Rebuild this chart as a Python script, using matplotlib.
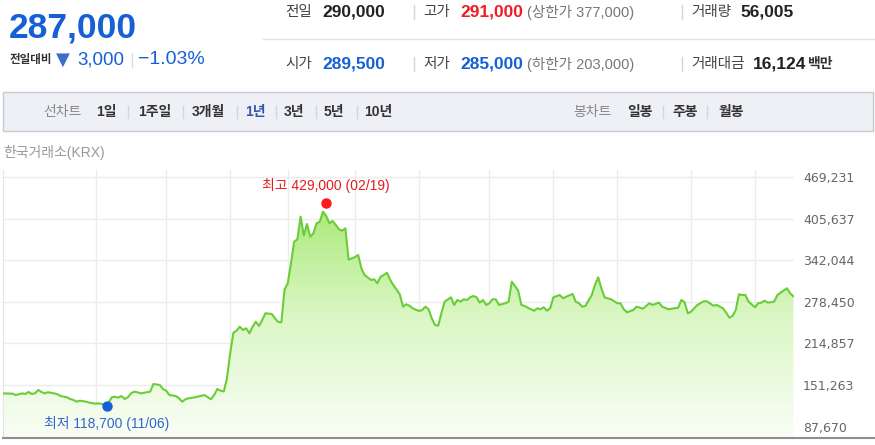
import numpy as np
import matplotlib
matplotlib.use("Agg")
import matplotlib.pyplot as plt
from matplotlib.colors import LinearSegmentedColormap
from matplotlib.lines import Line2D
from matplotlib.patches import Rectangle, Polygon

# ---------------------------------------------------------------------------
# data
# ---------------------------------------------------------------------------
cur_price = 287000
change = 3000
change_pct = -1.03
prev_close = 290000
open_price = 289500
day_high = 291000
day_low = 285000
upper_limit = 377000
lower_limit = 203000
volume = 56005
trade_value = 16124   # 백만

# trading day index and closing price (thousand won)
days = [0, 3, 4, 6, 7, 8, 9, 10, 11, 12, 13, 14, 16, 17, 18, 20, 21, 22, 23, 24,
        26, 27, 29, 30, 32, 33, 34, 35, 36, 37, 38, 39, 40, 41, 42, 43, 45, 46, 47, 49,
        50, 51, 52, 54, 55, 56, 57, 58, 60, 63, 64, 65, 66, 67, 68, 69, 70, 71, 72, 73,
        74, 75, 76, 77, 78, 79, 80, 81, 82, 84, 85, 86, 87, 88, 89, 90, 91, 92, 93, 94,
        95, 96, 97, 98, 99, 100, 101, 102, 103, 104, 105, 106, 107, 108, 110, 111, 112, 113, 115, 116,
        117, 118, 119, 120, 121, 122, 124, 125, 126, 127, 128, 130, 131, 132, 133, 134, 135, 136, 137, 138,
        140, 141, 142, 143, 144, 145, 146, 147, 148, 149, 150, 151, 152, 153, 154, 155, 157, 158, 159, 160,
        161, 162, 163, 165, 166, 167, 168, 169, 170, 171, 172, 174, 175, 176, 178, 179, 180, 181, 182, 184,
        185, 186, 187, 188, 190, 192, 193, 194, 195, 197, 198, 200, 202, 203, 205, 206, 208, 209, 211, 212,
        213, 214, 215, 217, 219, 220, 222, 223, 225, 226, 227, 228, 229, 230, 231, 232, 233, 235, 236, 237,
        238, 239, 241, 242, 243, 245, 246, 247]
price_k = [138.6, 138.1, 136.1, 138.6, 137.7, 140.7, 137.7, 138.6, 143.8, 140.7, 138.6, 140.3, 138.6, 137.2, 134.6, 132.6, 130.0, 128.5, 125.9, 127.4,
           125.9, 124.4, 122.8, 123.5, 121.0, 124.4, 132.6, 133.5, 132.0, 134.6, 130.0, 132.6, 138.6, 141.2, 140.3, 138.6, 140.3, 141.2, 152.9, 151.4,
           145.3, 142.7, 136.1, 134.6, 131.1, 125.9, 129.6, 131.1, 132.6, 136.1, 132.6, 129.6, 136.1, 145.3, 142.7, 141.5, 161.7, 199.9, 231.3, 234.4,
           240.5, 235.5, 238.1, 230.4, 240.5, 248.1, 241.6, 250.7, 261.0, 259.9, 253.3, 247.7, 247.2, 297.6, 306.8, 337.4, 370.4, 374.0, 408.6, 380.0,
           397.4, 378.0, 383.2, 398.5, 400.9, 416.2, 409.7, 398.5, 402.0, 395.9, 389.3, 387.2, 390.9, 342.9, 347.0, 350.1, 329.7, 319.5, 311.9, 312.9,
           306.8, 316.9, 319.5, 323.0, 311.9, 304.2, 290.0, 271.1, 274.7, 272.6, 268.6, 264.5, 266.0, 271.1, 267.1, 253.3, 243.1, 242.0, 261.0, 278.7,
           285.4, 273.7, 281.3, 278.7, 282.4, 281.3, 285.4, 287.4, 285.4, 277.2, 281.3, 273.7, 276.3, 282.4, 282.4, 273.7, 276.3, 278.7, 309.3, 302.7,
           295.5, 273.7, 272.1, 267.1, 264.9, 268.6, 267.1, 270.1, 264.9, 268.6, 285.4, 288.9, 283.9, 286.3, 290.5, 278.7, 276.3, 271.1, 272.1, 288.9,
           304.2, 316.0, 299.2, 285.4, 282.4, 276.3, 276.3, 267.1, 262.5, 266.0, 271.1, 268.0, 276.3, 273.7, 277.2, 271.1, 267.1, 268.0, 269.5, 281.3,
           277.8, 261.0, 263.4, 273.7, 279.3, 279.3, 272.6, 273.7, 268.6, 261.9, 254.3, 256.9, 266.0, 290.0, 288.9, 288.9, 278.7, 270.1, 276.3, 277.2,
           280.2, 277.2, 278.7, 288.9, 292.5, 299.2, 291.5, 287.0]
prices = np.array(price_k) * 1000

month_start_days = [29, 51, 71, 89, 110, 130, 152, 172, 192, 215, 235]
y_ticks = [87670, 151263, 214857, 278450, 342044, 405637, 469231]

high_day, high_price, high_date = 101, 429000, "02/19"
low_day, low_price, low_date = 32.5, 118700, "11/06"

period_tabs = ["1일", "1주일", "3개월", "1년", "3년", "5년", "10년"]
candle_tabs = ["일봉", "주봉", "월봉"]
active_tab = "1년"

# ---------------------------------------------------------------------------
# figure helpers (pixel positions of the 875x445 page)
# ---------------------------------------------------------------------------
W, H = 875, 445
plt.rcParams['font.family'] = ['Liberation Sans', 'Noto Sans CJK KR']

fig = plt.figure(figsize=(W / 100, H / 100), dpi=100)


def fx(x):
    return x / W


def fy(y):
    return 1 - y / H


def txt(x, y, s, **kw):
    kw.setdefault('va', 'center')
    fig.text(fx(x), fy(y), s, **kw)


def vsep(x, y0, y1, color='#d5d5d5'):
    fig.add_artist(Line2D([fx(x), fx(x)], [fy(y0), fy(y1)], color=color, lw=1))


BLUE = '#1560d6'
RED = '#ee1c25'
DARK = '#222222'
GRAY = '#666666'

# ---------------------------------------------------------------------------
# header
# ---------------------------------------------------------------------------
txt(9, 28, f"{cur_price:,}", color=BLUE, fontsize=25.5, fontweight='bold')
txt(10, 60, "전일대비", color='#333333', fontsize=8.3, fontweight='bold')
txt(56, 60, "▼", color='#3a70c8', fontsize=13, family='DejaVu Sans')
txt(77, 60, f"{change:,}", color=BLUE, fontsize=13.5)
vsep(132, 53, 67, color='#dddddd')
txt(138, 60, f"\u2212{abs(change_pct):.2f}%", color=BLUE, fontsize=14)

fig.add_artist(Line2D([fx(263), fx(875)], [fy(39), fy(39)], color='#e3e3e3', lw=1))

row1, row2 = 12, 64
txt(285, row1, "전일", color='#444444', fontsize=10.5)
txt(322, row1, f"{prev_close:,}", color=DARK, fontsize=12.5, fontweight='bold')
vsep(414, row1 - 7, row1 + 7)
txt(423, row1, "고가", color='#444444', fontsize=10.5)
txt(460, row1, f"{day_high:,}", color=RED, fontsize=12.5, fontweight='bold')
txt(527, row1, f"(상한가 {upper_limit:,})", color='#777777', fontsize=10.5)
vsep(682, row1 - 7, row1 + 7)
txt(691, row1, "거래량", color='#444444', fontsize=10.5)
txt(740, row1, f"{volume:,}", color=DARK, fontsize=12.5, fontweight='bold')

txt(285, row2, "시가", color='#444444', fontsize=10.5)
txt(322, row2, f"{open_price:,}", color=BLUE, fontsize=12.5, fontweight='bold')
vsep(414, row2 - 7, row2 + 7)
txt(423, row2, "저가", color='#444444', fontsize=10.5)
txt(460, row2, f"{day_low:,}", color=BLUE, fontsize=12.5, fontweight='bold')
txt(527, row2, f"(하한가 {lower_limit:,})", color='#777777', fontsize=10.5)
vsep(682, row2 - 7, row2 + 7)
txt(691, row2, "거래대금", color='#444444', fontsize=10.5)
txt(753, row2, f"{trade_value:,}", color=DARK, fontsize=12.5, fontweight='bold')
txt(808, row2, "백만", color='#333333', fontsize=10, fontweight='bold')

# ---------------------------------------------------------------------------
# toolbar
# ---------------------------------------------------------------------------
fig.add_artist(Rectangle((fx(3), fy(131)), fx(870), (131 - 92) / H,
                         facecolor='#eff0f5', edgecolor='#c6c9d0', lw=1))
tb = 112
txt(43, tb, "선차트", color='#888888', fontsize=10)
tab_x = [96, 138, 192, 245, 284, 324, 364]
sep_x = [128, 183, 237, 276, 316, 357]
for lab, x in zip(period_tabs, tab_x):
    txt(x, tb, lab, color='#3355aa' if lab == active_tab else '#333333',
        fontsize=10, fontweight='bold')
for x in sep_x:
    vsep(x, tb - 6, tb + 6, color='#d3d5db')
txt(573, tb, "봉차트", color='#888888', fontsize=10)
for lab, x in zip(candle_tabs, [627, 672, 718]):
    txt(x, tb, lab, color='#333333', fontsize=10, fontweight='bold')
for x in [663, 707]:
    vsep(x, tb - 6, tb + 6, color='#d3d5db')

txt(3, 153, "한국거래소(KRX)", color='#999999', fontsize=10)

# ---------------------------------------------------------------------------
# price chart
# ---------------------------------------------------------------------------
ax = fig.add_axes([fx(3), fy(438), (794 - 3) / W, (438 - 170) / H])
won_per_px = (y_ticks[-1] - y_ticks[0]) / (426.7 - 177)
ymin = y_ticks[0] - (438 - 426.7) * won_per_px
ymax = y_ticks[-1] + (177 - 170) * won_per_px
xmax = days[-1] + 0.2

# gradient area under the line
grad = LinearSegmentedColormap.from_list('g', ['#f9fef6', '#dcf7c6', '#a9e978'])
img = ax.imshow(np.linspace(0, 1, 256).reshape(-1, 1), cmap=grad, aspect='auto',
                origin='lower', extent=[0, xmax, ymin, 430000], zorder=1)
verts = [(days[0], ymin)] + list(zip(days, prices)) + [(days[-1], ymin)]
clip = Polygon(verts, closed=True, facecolor='none', edgecolor='none')
ax.add_patch(clip)
img.set_clip_path(clip)

ax.plot(days, prices, color='#6acd38', lw=1.5, zorder=3)

ax.set_xlim(0, xmax)
ax.set_ylim(ymin, ymax)
ax.set_yticks(y_ticks)
ax.set_yticklabels([f"{v:,}" for v in y_ticks])
ax.yaxis.tick_right()
ax.tick_params(axis='y', length=0, pad=6.5, labelsize=9.5, labelcolor='#666666')
ax.set_xticks(month_start_days)
ax.tick_params(axis='x', length=0, labelbottom=False)
ax.grid(True, color='#ececec', lw=1, zorder=0)
ax.set_axisbelow(True)
for s in ['top', 'right', 'bottom']:
    ax.spines[s].set_visible(False)
ax.spines['left'].set_color('#e6e6e6')
for lab in ax.get_yticklabels():
    lab.set_family('DejaVu Sans')
    lab.set_fontsize(9)

# highest / lowest markers
ax.plot(high_day, high_price, 'o', color='#ff1a1a', ms=6.5, zorder=4)
ax.annotate(f"최고 {high_price:,} ({high_date})", xy=(high_day, high_price),
            xytext=(0, 12.5), textcoords='offset points', ha='center', va='center',
            color='#e51c1c', fontsize=10)
ax.plot(low_day, low_price, 'o', color='#1560d6', ms=6.5, zorder=4)
ax.annotate(f"최저 {low_price:,} ({low_date})", xy=(low_day, low_price),
            xytext=(0, -12), textcoords='offset points', ha='center', va='center',
            color='#3366cc', fontsize=10)

fig.add_artist(Line2D([fx(3), fx(875)], [fy(438), fy(438)], color='#8e8e8e', lw=1.5))

plt.savefig("out.png", dpi=100)
